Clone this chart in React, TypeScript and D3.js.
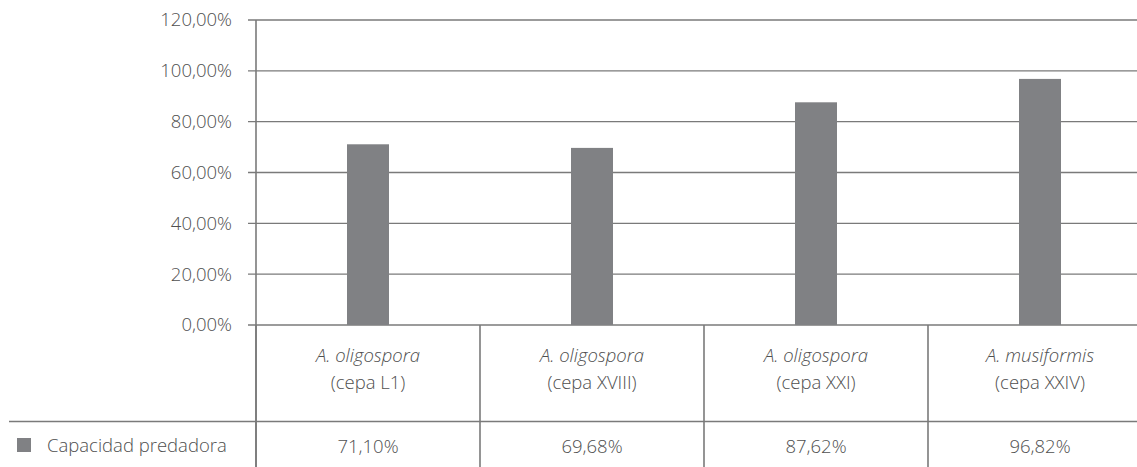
import React from "react";
import * as d3 from "d3";

const speciesNames = ["A. oligospora", "A. oligospora", "A. oligospora", "A. musiformis"];
const strainNames = ["(cepa L1)", "(cepa XVIII)", "(cepa XXI)", "(cepa XXIV)"];
const values = [71.1, 69.68, 87.62, 96.82];
const valueLabels = ["71,10%", "69,68%", "87,62%", "96,82%"];
const yTicks = [0, 20, 40, 60, 80, 100, 120];
const seriesName = "Capacidad predadora";

const W = 1137;
const H = 467;
const FONT = "'Open Sans', sans-serif";
const FS = 18.5;
const TEXT = "#4f4f4f";
const GRID = "#7a7a7a";
const BAR = "#808184";

export default function App() {
  const left = 256;
  const bandW = 224;
  const x = d3
    .scaleBand<number>()
    .domain(values.map((_, i) => i))
    .range([left, left + bandW * values.length])
    .padding(0);
  const y = d3.scaleLinear().domain([0, 120]).range([325, 20]);
  const barW = x.bandwidth() * 0.1875;
  const fmt = (v: number) => d3.format(".2f")(v).replace(".", ",") + "%";
  const tableTop = y(0);
  const rowLine = 421.5;
  const bounds = values.map((_, i) => x(i)!).concat([left + bandW * values.length]);

  return (
    <svg
      width={W}
      height={H}
      style={{ position: "absolute", left: 0, top: 0, background: "#fff" }}
      fontFamily={FONT}
    >
      {yTicks.map((t) => (
        <g key={t}>
          <line x1={248} x2={W} y1={y(t)} y2={y(t)} stroke={GRID} strokeWidth={1.3} />
          <text
            x={232}
            y={y(t)}
            dy="0.35em"
            textAnchor="end"
            fontSize={FS}
            fontWeight={300}
            fill={TEXT}
          >
            {fmt(t)}
          </text>
        </g>
      ))}
      {values.map((v, i) => (
        <rect
          key={i}
          x={x(i)! + x.bandwidth() / 2 - barW / 2}
          y={y(v)}
          width={barW}
          height={y(0) - y(v)}
          fill={BAR}
        />
      ))}
      {/* axis line */}
      <line x1={left} x2={left} y1={y(120)} y2={H} stroke={GRID} strokeWidth={1.6} />
      {/* table vertical lines */}
      {bounds.map((b, i) => (
        <line key={i} x1={b} x2={b} y1={tableTop} y2={H} stroke={GRID} strokeWidth={1.6} />
      ))}
      <line x1={9} x2={W} y1={rowLine} y2={rowLine} stroke={GRID} strokeWidth={1.6} />
      {values.map((_, i) => {
        const cx = x(i)! + x.bandwidth() / 2;
        return (
          <g key={i} fill={TEXT} fontSize={FS} fontWeight={300} textAnchor="middle">
            <text x={cx} y={356} dy="0.35em" fontStyle="italic">
              {speciesNames[i]}
            </text>
            <text x={cx} y={383} dy="0.35em">
              {strainNames[i]}
            </text>
            <text x={cx} y={447} dy="0.35em">
              {valueLabels[i]}
            </text>
          </g>
        );
      })}
      <rect x={17} y={438} width={14} height={14} fill={BAR} />
      <text x={47} y={446} dy="0.35em" fontSize={FS} fontWeight={300} fill={TEXT}>
        {seriesName}
      </text>
    </svg>
  );
}
